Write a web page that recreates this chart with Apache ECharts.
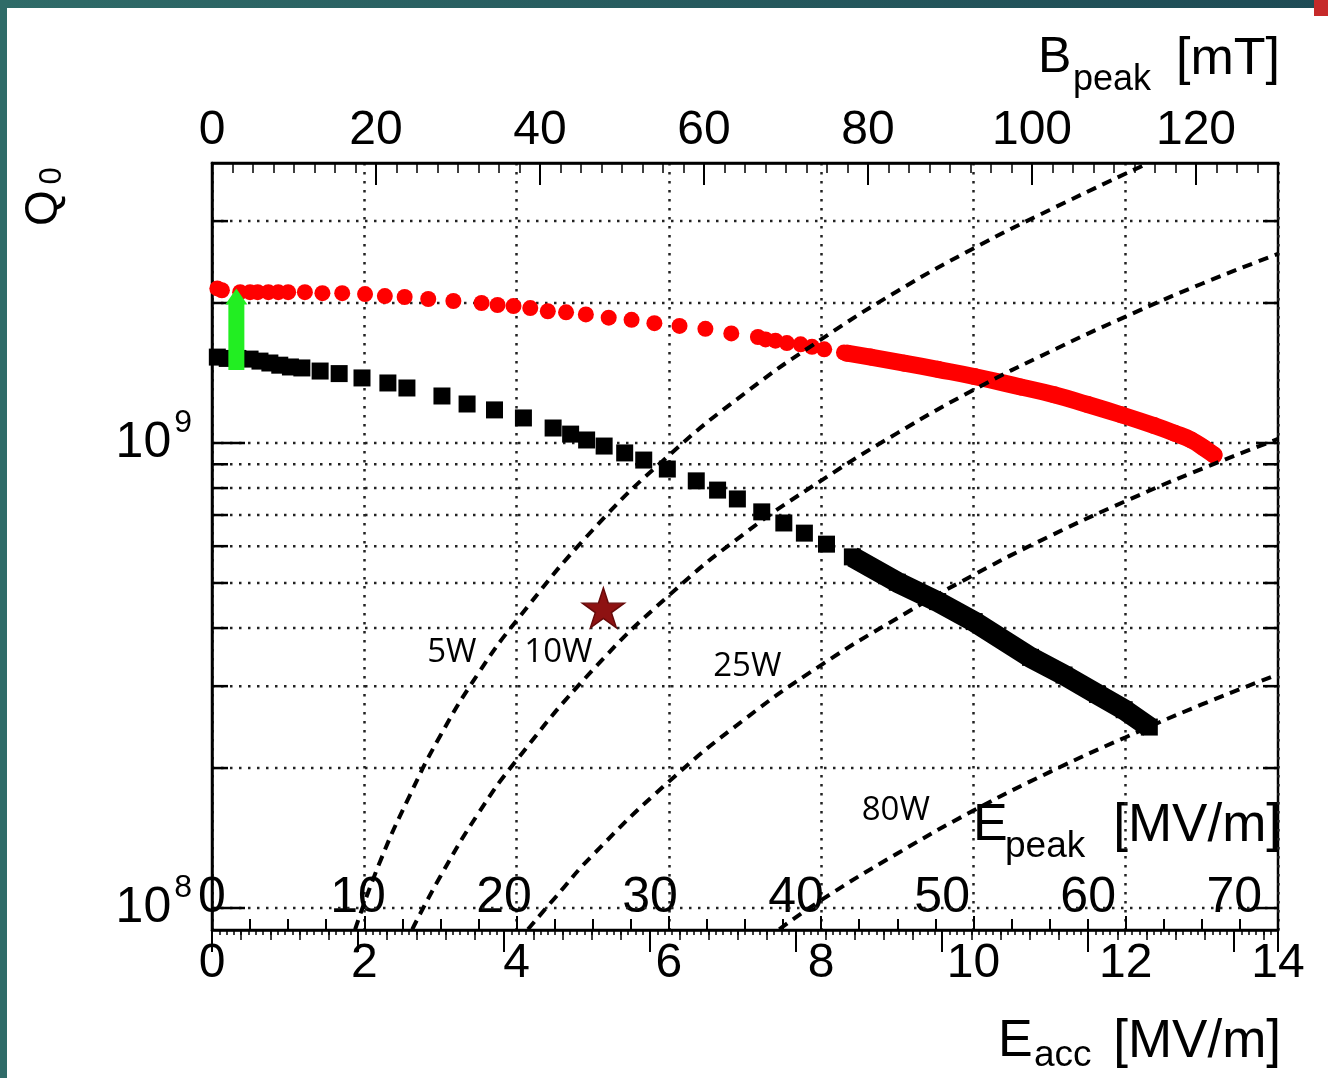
<!DOCTYPE html>
<html>
<head>
<meta charset="utf-8">
<script src="https://cdn.jsdelivr.net/npm/echarts@6/dist/echarts.min.js"></script>
<style>
html,body{margin:0;padding:0;background:#fff;}
#q0-plot{width:1328px;height:1078px;}
</style>
</head>
<body>
<div id="q0-plot"></div>
<script>
// Q0 vs Eacc (Eacc in MV/m)
// red circles, sparse part
var redE = [0.07,0.13,0.37,0.50,0.60,0.74,0.87,1.00,1.22,1.45,1.71,2.01,2.27,2.53,2.84,3.17,3.54,3.75,3.96,4.18,
            4.41,4.65,4.91,5.21,5.51,5.81,6.14,6.48,6.82,7.17,7.27,7.40,7.55,7.73,7.88,8.04,8.30];
var redQ = [2.15e9,2.13e9,2.11e9,2.11e9,2.11e9,2.11e9,2.11e9,2.11e9,2.11e9,2.10e9,2.10e9,2.09e9,2.07e9,2.06e9,2.04e9,2.02e9,2.00e9,1.98e9,1.97e9,1.95e9,
            1.92e9,1.91e9,1.89e9,1.86e9,1.84e9,1.81e9,1.785e9,1.76e9,1.72e9,1.69e9,1.67e9,1.66e9,1.64e9,1.63e9,1.61e9,1.59e9,1.565e9];
// red circles, dense part (drawn as a band)
var redBandE = [8.34,8.65,9.09,9.53,10.01,10.62,11.06,11.50,11.94,12.37,12.64,12.86,13.03,13.16];
var redBandQ = [1.56e9,1.53e9,1.485e9,1.44e9,1.39e9,1.32e9,1.27e9,1.21e9,1.15e9,1.09e9,1.05e9,1.015e9,0.975e9,0.942e9];

// black squares
var blackE = [0.07,0.20,0.34,0.50,0.63,0.76,0.89,1.03,1.18,1.42,1.67,1.97,2.31,2.56,3.02,3.35,3.71,4.09,4.48,4.71,4.92,
              5.15,5.42,5.67,5.98,6.36,6.64,6.90,7.22,7.51,7.78,8.07];
var blackQ = [1.53e9,1.52e9,1.52e9,1.515e9,1.50e9,1.486e9,1.47e9,1.457e9,1.45e9,1.428e9,1.41e9,1.38e9,1.346e9,1.313e9,1.262e9,1.213e9,1.178e9,1.132e9,1.077e9,1.045e9,1.015e9,
              0.985e9,0.952e9,0.919e9,0.879e9,0.829e9,0.792e9,0.758e9,0.711e9,0.673e9,0.640e9,0.606e9];
var blackBandE = [8.41,9.00,9.53,10.01,10.75,11.19,11.63,11.98,12.31];
var blackBandQ = [0.569e9,0.502e9,0.456e9,0.413e9,0.346e9,0.317e9,0.288e9,0.267e9,0.245e9];

// constant dissipated power curves
var p5E  = [1.88,2.2,2.6,3,3.5,4,5,6,7,8,9,10,11,12.3];
var p5Q  = [0.9e8,1.25e8,1.75e8,2.35e8,3.2e8,4.15e8,6.5e8,9.4e8,1.28e9,1.67e9,2.12e9,2.62e9,3.17e9,4.0e9];
var p10E = [2.63,3,3.5,4,5,6,7,8,9,10,11,12,13,14];
var p10Q = [0.9e8,1.17e8,1.6e8,2.08e8,3.25e8,4.7e8,6.4e8,8.3e8,1.05e9,1.3e9,1.57e9,1.87e9,2.2e9,2.55e9];
var p25E = [4.15,4.5,5,6,7,8,9,10,11,12,13,14];
var p25Q = [0.9e8,1.05e8,1.3e8,1.87e8,2.55e8,3.33e8,4.2e8,5.2e8,6.3e8,7.5e8,8.8e8,1.02e9];
var p80E = [7.45,8,9,10,11,12,13,14];
var p80Q = [0.9e8,1.04e8,1.31e8,1.62e8,1.96e8,2.33e8,2.74e8,3.18e8];

var wattText = ['5W','10W','25W','80W'];
var wattE = [3.15,4.55,7.03,8.98];
var wattQ = [3.55e8,3.55e8,3.30e8,1.62e8];

var starE = [5.14];
var starQ = [4.42e8];

// green arrow (0.3 MV/m)
var arrowE = 0.32, arrowFrom = 1.435e9, arrowTo = 2.15e9;

// axes
var eaccMin = 0, eaccMax = 14;
var qMin = 8.97e7, qMax = 4.0e9;
var bpeakMax = 130, epeakMax = 73;
var yGridQ = [1e8,2e8,3e8,4e8,5e8,6e8,7e8,8e8,9e8,1e9,2e9,3e9];

function zip(a, b){
    var out = [];
    for(var i=0;i<a.length;i++){ out.push([a[i], b[i]]); }
    return out;
}

var FONT = 'Liberation Sans';
var dotted = [2.5, 6.5];

var myChart = echarts.init(document.getElementById('q0-plot'), null, {renderer:'canvas'});

var dashedLine = function(e, q){
    return {
        type:'line', data: zip(e, q), smooth:true, symbol:'none', silent:true, z:5,
        lineStyle:{color:'#000', width:4, type:[10,7]}
    };
};

var option = {
    backgroundColor:'#fff',
    animation:false,
    grid:{left:212, right:50, top:163, bottom:148, show:true, borderColor:'#000', borderWidth:2.5, backgroundColor:'transparent'},
    xAxis:[
        {   // Eacc
            type:'value', min:eaccMin, max:eaccMax, interval:2, position:'bottom',
            axisLine:{show:true, lineStyle:{color:'#000', width:2.5}},
            axisTick:{show:true, inside:true, length:14, lineStyle:{color:'#000', width:2}},
            minorTick:{show:false},
            axisLabel:{show:true, margin:10, fontSize:48, fontFamily:FONT, color:'#000'},
            splitLine:{show:true, lineStyle:{color:'#222', width:2.5, type:dotted}}
        },
        {   // Bpeak
            type:'value', min:0, max:bpeakMax, interval:20, position:'top',
            axisLine:{show:true, lineStyle:{color:'#000', width:2.5}},
            axisTick:{show:true, inside:true, length:22, lineStyle:{color:'#000', width:2}},
            minorTick:{show:true, splitNumber:8, length:10, lineStyle:{color:'#000', width:1.5}},
            axisLabel:{show:true, margin:8, fontSize:48, fontFamily:FONT, color:'#000', showMaxLabel:false},
            splitLine:{show:false}
        },
        {   // Epeak
            type:'value', min:0, max:epeakMax, interval:10, position:'bottom',
            axisLine:{show:false},
            axisTick:{show:true, inside:false, length:22, lineStyle:{color:'#000', width:2}},
            minorTick:{show:true, splitNumber:5, length:10, lineStyle:{color:'#000', width:1.5}},
            axisLabel:{show:true, inside:true, margin:7, fontSize:50, fontFamily:FONT, color:'#000', showMaxLabel:false},
            splitLine:{show:false}
        },
        {   // Eacc half-unit ticks
            type:'value', min:eaccMin, max:eaccMax, interval:0.5, position:'bottom',
            axisLine:{show:false},
            axisTick:{show:true, inside:true, length:11, lineStyle:{color:'#000', width:2}},
            axisLabel:{show:false}, splitLine:{show:false}
        },
        {   // Epeak fine ticks
            type:'value', min:0, max:epeakMax, interval:0.5, position:'bottom',
            axisLine:{show:false},
            axisTick:{show:true, inside:false, length:5, lineStyle:{color:'#000', width:1.5}},
            axisLabel:{show:false}, splitLine:{show:false}
        }
    ],
    yAxis:[{
        type:'log', logBase:10, min:qMin, max:qMax,
        axisLine:{show:true, lineStyle:{color:'#000', width:2.5}},
        axisTick:{show:false},
        splitLine:{show:false},
        axisLabel:{
            show:true, margin:20, color:'#000',
            formatter:function(v){
                var lg = Math.log10(v);
                var e = Math.round(lg);
                if(Math.abs(lg - e) > 1e-6){ return ''; }
                return '{b|10}{s|' + e + '}';
            },
            rich:{
                b:{fontSize:50, fontFamily:FONT, color:'#000'},
                s:{fontSize:32, fontFamily:FONT, color:'#000', padding:[0,0,40,3]}
            }
        }
    }],
    series:[
        {   // horizontal dotted grid + y ticks on both sides
            type:'custom', silent:true, z:1,
            data: yGridQ.map(function(q){ return [eaccMin, q]; }),
            renderItem:function(params, api){
                var q = api.value(1);
                var l = api.coord([eaccMin, q]);
                var r = api.coord([eaccMax, q]);
                var major = (q === 1e8 || q === 1e9);
                var lenL = major ? 33 : 16;
                var lenR = major ? 22 : 15;
                return {type:'group', children:[
                    {type:'line', shape:{x1:l[0], y1:l[1], x2:r[0], y2:r[1]},
                     style:{stroke:'#222', lineWidth:2.5, lineDash:dotted}},
                    {type:'line', shape:{x1:l[0], y1:l[1], x2:l[0]+lenL, y2:l[1]},
                     style:{stroke:'#000', lineWidth:2.5}},
                    {type:'line', shape:{x1:r[0]-lenR, y1:r[1], x2:r[0], y2:r[1]},
                     style:{stroke:'#000', lineWidth:2.5}}
                ]};
            }
        },
        {   // red dense band
            type:'line', data: zip(redBandE, redBandQ), smooth:true, symbol:'circle', symbolSize:17, silent:true, z:3,
            itemStyle:{color:'#ff0000', opacity:1},
            lineStyle:{color:'#ff0000', width:17, cap:'round', join:'round'}
        },
        {
            type:'scatter', data: zip(redE, redQ), symbol:'circle', symbolSize:16, silent:true, z:3,
            itemStyle:{color:'#ff0000', opacity:1}
        },
        {   // black dense band
            type:'line', data: zip(blackBandE, blackBandQ), smooth:false, symbol:'rect', symbolSize:17, silent:true, z:3,
            itemStyle:{color:'#000', opacity:1},
            lineStyle:{color:'#000', width:21, cap:'butt', join:'round'}
        },
        {
            type:'scatter', data: zip(blackE, blackQ), symbol:'rect', symbolSize:17, silent:true, z:3,
            itemStyle:{color:'#000', opacity:1}
        },
        dashedLine(p5E, p5Q),
        dashedLine(p10E, p10Q),
        dashedLine(p25E, p25Q),
        dashedLine(p80E, p80Q),
        {   // green arrow
            type:'custom', silent:true, z:6,
            data:[[arrowE, arrowFrom, arrowTo]],
            renderItem:function(params, api){
                var p0 = api.coord([api.value(0), api.value(1)]);
                var p1 = api.coord([api.value(0), api.value(2)]);
                var head = 16;
                return {type:'group', children:[
                    {type:'rect', shape:{x:p0[0]-8, y:p1[1]+head-1, width:16, height:p0[1]-p1[1]-head+1},
                     style:{fill:'#22ee22'}},
                    {type:'polygon', shape:{points:[[p1[0]-11, p1[1]+head],[p1[0]+11, p1[1]+head],[p1[0], p1[1]]]},
                     style:{fill:'#22ee22'}}
                ]};
            }
        },
        {   // star
            type:'scatter', data: zip(starE, starQ), silent:true, z:7,
            symbol:'path://M50,0 L61.2,34.5 L97.6,34.5 L68.2,55.9 L79.4,90.5 L50,69.1 L20.6,90.5 L31.8,55.9 L2.4,34.5 L38.8,34.5 Z',
            symbolSize:[42,40],
            itemStyle:{color:'#8e1212', borderColor:'#660a0a', borderWidth:1.5, opacity:1}
        },
        {   // power labels
            type:'scatter', silent:true, z:8, symbolSize:0,
            itemStyle:{color:'rgba(0,0,0,0)', opacity:1},
            data: wattText.map(function(t, i){ return {value:[wattE[i], wattQ[i]], name:t}; }),
            label:{show:true, position:'inside', formatter:'{b}', fontSize:33, fontFamily:'Open Sans', color:'#000', opacity:1}
        }
    ],
    graphic:[
        {type:'rect', silent:true, shape:{x:0, y:0, width:1328, height:8},
         style:{fill:new echarts.graphic.LinearGradient(0,0,1,0,[{offset:0,color:'#2f6b68'},{offset:1,color:'#1e4b55'}])}},
        {type:'rect', silent:true, shape:{x:0, y:0, width:7, height:1078}, style:{fill:'#2f6b68'}},
        {type:'rect', silent:true, shape:{x:1314, y:0, width:14, height:16}, style:{fill:'#c62a2a'}},
        // Q0
        {type:'text', silent:true, x:44, y:208, rotation:Math.PI/2,
         style:{text:'Q', fontSize:46, fontFamily:FONT, fill:'#000', align:'center', verticalAlign:'middle'}},
        {type:'text', silent:true, x:52, y:176, rotation:Math.PI/2,
         style:{text:'0', fontSize:31, fontFamily:FONT, fill:'#000', align:'center', verticalAlign:'middle'}},
        // Bpeak [mT]
        {type:'text', silent:true, x:1038, y:58,
         style:{text:'B', fontSize:50, fontFamily:FONT, fill:'#000', align:'left', verticalAlign:'middle'}},
        {type:'text', silent:true, x:1073, y:80,
         style:{text:'peak', fontSize:36, fontFamily:FONT, fill:'#000', align:'left', verticalAlign:'middle'}},
        {type:'text', silent:true, x:1280, y:60,
         style:{text:'[mT]', fontSize:52, fontFamily:FONT, fill:'#000', align:'right', verticalAlign:'middle'}},
        // Epeak [MV/m]
        {type:'text', silent:true, x:973, y:826,
         style:{text:'E', fontSize:52, fontFamily:FONT, fill:'#000', align:'left', verticalAlign:'middle'}},
        {type:'text', silent:true, x:1005, y:847,
         style:{text:'peak', fontSize:37, fontFamily:FONT, fill:'#000', align:'left', verticalAlign:'middle'}},
        {type:'text', silent:true, x:1281, y:826,
         style:{text:'[MV/m]', fontSize:53, fontFamily:FONT, fill:'#000', align:'right', verticalAlign:'middle'}},
        // Eacc [MV/m]
        {type:'text', silent:true, x:998, y:1042,
         style:{text:'E', fontSize:52, fontFamily:FONT, fill:'#000', align:'left', verticalAlign:'middle'}},
        {type:'text', silent:true, x:1034, y:1056,
         style:{text:'acc', fontSize:37, fontFamily:FONT, fill:'#000', align:'left', verticalAlign:'middle'}},
        {type:'text', silent:true, x:1281, y:1042,
         style:{text:'[MV/m]', fontSize:53, fontFamily:FONT, fill:'#000', align:'right', verticalAlign:'middle'}}
    ]
};
myChart.setOption(option);
</script>
</body>
</html>
